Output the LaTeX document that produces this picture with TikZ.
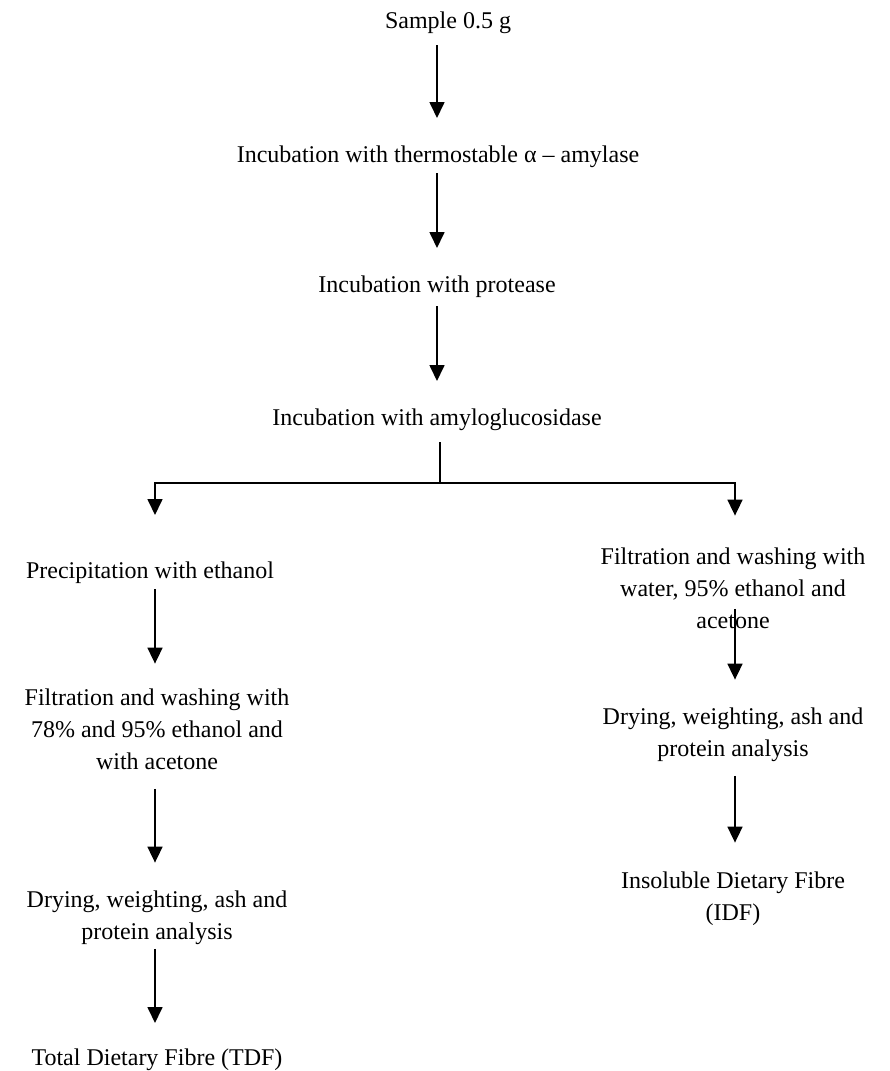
\documentclass[tikz,border=0pt]{standalone}
\usepackage{fontspec}
\setmainfont{Liberation Serif}
\usetikzlibrary{arrows.meta,calc}

\tikzset{
  txt/.style={inner sep=0pt, align=center, font=\fontsize{24}{32}\selectfont},
  arr/.style={line width=1.7pt, -{Triangle[length=16pt,width=15pt]}},
  ln/.style={line width=1.7pt},
}

\begin{document}
\begin{tikzpicture}[x=1pt,y=-1pt]
		\useasboundingbox (0,0) rectangle (889,1071);

		% arrow columns
		\coordinate (mid) at (437,0);
		\coordinate (lcol) at (155,0);
		\coordinate (rcol) at (735,0);

		%main column
		\node[txt, anchor=base] (sample) at (448,28) {Sample 0.5 g};
		\node[txt, anchor=base] (amylase) at (438,162) {Incubation with thermostable α – amylase};
		\node[txt, anchor=base] (protease) at (437,292) {Incubation with protease};
		\node[txt, anchor=base] (amylo) at (437,425) {Incubation with amyloglucosidase};

		\draw[arr] ($(sample.base -| mid)+(0,17)$) -- ($(amylase.base -| mid)+(0,-44)$);
		\draw[arr] ($(amylase.base -| mid)+(0,11)$) -- ($(protease.base -| mid)+(0,-44)$);
		\draw[arr] ($(protease.base -| mid)+(0,14)$) -- ($(amylo.base -| mid)+(0,-44)$);

		%left branch
		\node[txt, anchor=base] (precip) at (150,578) {Precipitation with ethanol};
		\node[txt, anchor=north] (lfilt) at (157,688.6) {Filtration and washing with\\78\% and 95\% ethanol and\\with acetone};
		\node[txt, anchor=north] (ldry) at (157,890.6) {Drying, weighting, ash and\\protein analysis};
		\node[txt, anchor=base] (tdf) at (157,1065) {Total Dietary Fibre (TDF)};

		%right branch
		\node[txt, anchor=north] (rfilt) at (733,547.6) {Filtration and washing with\\water, 95\% ethanol and\\acetone};
		\node[txt, anchor=north] (rdry) at (733,707.6) {Drying, weighting, ash and\\protein analysis};
		\node[txt, anchor=north] (idf) at (733,871.6) {Insoluble Dietary Fibre\\(IDF)};

		%fork into two branches
		\coordinate (fork) at (440,483);
		\draw[ln] ($(amylo.base -| fork)+(0,17)$) -- (fork);
		\draw[arr] (fork) -| ($(precip.base -| lcol)+(0,-63)$);
		\draw[arr] (fork) -| ($(rfilt.north -| rcol)+(0,-32)$);

		\draw[arr] ($(precip.base -| lcol)+(0,11)$) -- ($(lfilt.north -| lcol)+(0,-25)$);
		\draw[arr] ($(lfilt.south -| lcol)+(0,19)$) -- ($(ldry.north -| lcol)+(0,-28)$);
		\draw[arr] ($(ldry.south -| lcol)+(0,4)$) -- ($(tdf.base -| lcol)+(0,-42)$);

		\draw[arr] ($(rfilt.south -| rcol)+(0,-20)$) -- ($(rdry.north -| rcol)+(0,-28)$);
		\draw[arr] ($(rdry.south -| rcol)+(0,14)$) -- ($(idf.north -| rcol)+(0,-29)$);

	\end{tikzpicture}
\end{document}
